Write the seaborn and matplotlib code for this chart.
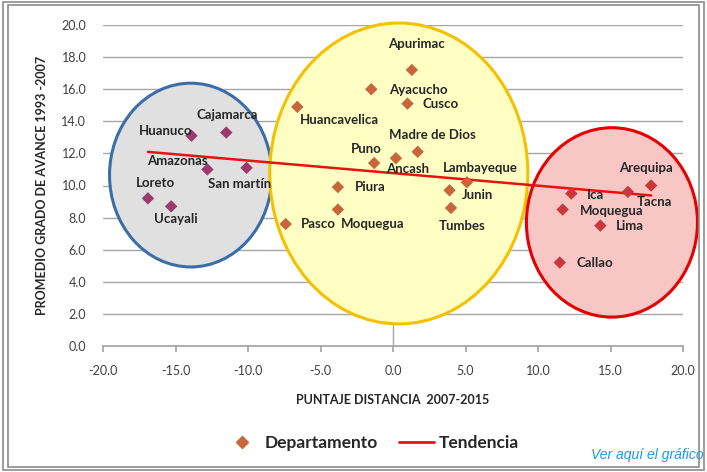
import matplotlib
matplotlib.use("Agg")
import matplotlib.pyplot as plt
from matplotlib.lines import Line2D
from matplotlib.patches import Ellipse, Rectangle
import numpy as np
import pandas as pd
import seaborn as sns

# -- Data ----------------------------------------------------------------------
departamentos = [
    "Huanuco", "Cajamarca", "Amazonas", "San martín", "Loreto", "Ucayali",
    "Huancavelica", "Ayacucho", "Puno", "Piura", "Pasco", "Moquegua",
    "Apurimac", "Cusco", "Madre de Dios", "Ancash", "Lambayeque", "Junin",
    "Tumbes",
    "Ica", "Moquegua ", "Lima", "Callao", "Tacna", "Arequipa",
]
distancia = [
    -13.9, -11.5, -12.8, -10.1, -16.9, -15.3,
    -6.6, -1.5, -1.3, -3.8, -7.4, -3.8,
    1.3, 1.0, 1.7, 0.2, 5.1, 3.9,
    4.0,
    12.3, 11.7, 14.3, 11.5, 16.2, 17.8,
]
avance = [
    13.1, 13.3, 11.0, 11.1, 9.2, 8.7,
    14.9, 16.0, 11.4, 9.9, 7.6, 8.5,
    17.2, 15.1, 12.1, 11.7, 10.2, 9.7,
    8.6,
    9.5, 8.5, 7.5, 5.2, 9.6, 10.0,
]
grupo = ["bajo"] * 6 + ["medio"] * 13 + ["alto"] * 6

# -- Style ---------------------------------------------------------------------
X_MIN, X_MAX = -20, 20
Y_MIN, Y_MAX = 0, 20
PALETTE = {"bajo": "#9B3A6C", "medio": "#C8653A", "alto": "#C9383A"}
FONT = ["Lato", "DejaVu Sans"]

# label offsets (pixels) relative to each marker
OFFSETS = [
    (-26, 5), (1, 18), (-30, 8), (-7, -16), (8, 15), (5, -13),
    (42, -13), (47, -1), (-8, 14), (32, 0), (33, 0), (35, -14),
    (5, 26), (33, 0), (15, 17), (12, -11), (13, 14), (28, -5),
    (11, -18),
    (24, -1), (49, -1), (30, 0), (35, 0), (27, -10), (-5, 18),
]

# cluster ellipses: centre x, centre y, width, height, face, edge
ELLIPSES = [
    (-13.95, 10.65, 11.2, 11.45, "#E0E0E0", "#3B6EA8"),
    (0.4, 10.75, 17.8, 18.75, "#FFFFC4", "#F5C000"),
    (15.1, 7.7, 11.8, 11.8, "#F9C6C6", "#E60000"),
]

sns.set_theme(style="white")
plt.rcParams["font.family"] = FONT

df = pd.DataFrame({"depto": departamentos, "x": distancia, "y": avance, "grupo": grupo})

fig = plt.figure(figsize=(7.07, 4.72), dpi=100)
ax = fig.add_axes([103 / 707, 126 / 472, 580 / 707, 321 / 472])

for cx, cy, w, h, fc, ec in ELLIPSES:
    ax.add_patch(Ellipse((cx, cy), w, h, facecolor=fc, edgecolor=ec,
                         linewidth=2.2, zorder=1, clip_on=False))

ax.set_yticks(np.arange(Y_MIN, Y_MAX + 0.1, 2.0))
ax.set_xticks(np.arange(X_MIN, X_MAX + 0.1, 5.0))
ax.yaxis.grid(True, color="#A6A6A6", linewidth=1.0, zorder=0)
ax.set_axisbelow(True)
ax.axvline(0, color="#A6A6A6", linewidth=1.0, zorder=0.5)

sns.regplot(data=df, x="x", y="y", scatter=False, ci=None, truncate=True,
            color="#E8120C", line_kws={"linewidth": 1.8, "zorder": 3}, ax=ax)
sns.scatterplot(data=df, x="x", y="y", hue="grupo", palette=PALETTE,
                marker="D", s=40, edgecolor="none", legend=False, zorder=4, ax=ax)

for (name, x, y), (dx, dy) in zip(zip(departamentos, distancia, avance), OFFSETS):
    ax.annotate(name.strip(), (x, y), xytext=(dx, dy), textcoords="offset pixels",
                ha="center", va="center", fontsize=9.5, fontweight="bold",
                color="#262626", zorder=5)

ax.set_xlim(X_MIN, X_MAX)
ax.set_ylim(Y_MIN, Y_MAX)
ax.xaxis.set_major_formatter(matplotlib.ticker.FormatStrFormatter("%.1f"))
ax.yaxis.set_major_formatter(matplotlib.ticker.FormatStrFormatter("%.1f"))
ax.tick_params(axis="both", labelsize=9, colors="#404040", pad=6)
ax.tick_params(axis="x", bottom=True, length=4, color="#A6A6A6", pad=10)
for side in ["top", "right", "left"]:
    ax.spines[side].set_visible(False)
ax.spines["bottom"].set_color("#A6A6A6")

ax.set_xlabel("PUNTAJE DISTANCIA  2007-2015", fontsize=9, fontweight="bold",
              color="#262626", labelpad=12)
ax.set_ylabel("PROMEDIO GRADO DE AVANCE 1993 -2007", fontsize=9, fontweight="bold",
              color="#262626", labelpad=10)

handles = [
    Line2D([], [], marker="D", linestyle="none", color=PALETTE["medio"], markersize=6),
    Line2D([], [], color="#E8120C", linewidth=2),
]
fig.legend(handles, ["Departamento", "Tendencia"], loc="center",
           bbox_to_anchor=(372 / 707, 1 - 443 / 472), ncol=2, frameon=False,
           prop={"size": 12.5, "weight": "bold"}, handlelength=2.0, columnspacing=1.2,
           handletextpad=0.3)

fig.text(704 / 707, 1 - 455 / 472, "Ver aquí el gráfico", ha="right", va="center",
         fontsize=10, style="italic", color="#1E96E6", family=["Liberation Sans"])

# double frame round the chart area
for inset, lw in [(0.004, 1.2), (0.011, 1.2)]:
    fig.add_artist(Rectangle((inset, inset), 1 - 2 * inset, 1 - 2 * inset,
                             transform=fig.transFigure, fill=False,
                             edgecolor="#8C8C8C", linewidth=lw))

fig.savefig("out.png", dpi=100)
